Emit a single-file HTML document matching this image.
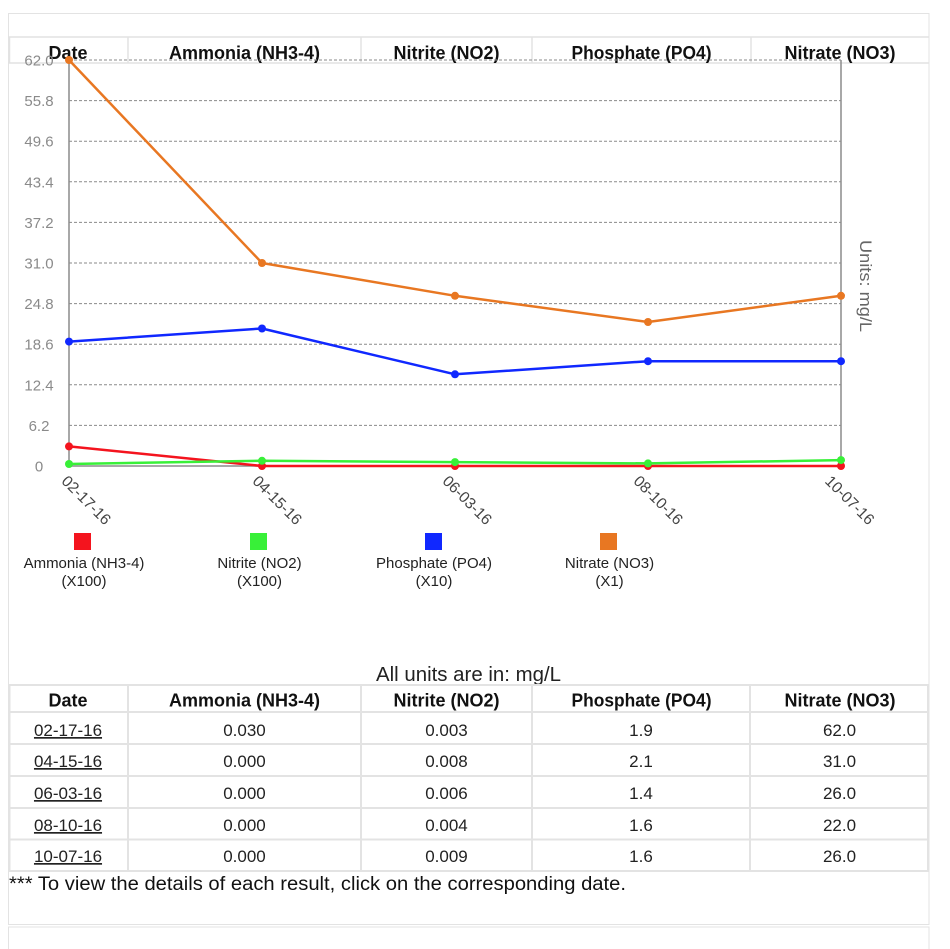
<!DOCTYPE html>
<html><head><meta charset="utf-8"><style>
html,body{margin:0;padding:0;background:#fff;}
svg{display:block;}
text{font-family:"Liberation Sans",Arial,sans-serif;}
</style></head><body>
<svg width="950" height="949" viewBox="0 0 950 949" xmlns="http://www.w3.org/2000/svg">
<!-- outer container -->
<rect x="8.5" y="13.5" width="920.5" height="911" fill="#fff" stroke="#e3e3e3" stroke-width="1"/>
<rect x="8.5" y="927" width="920.5" height="40" fill="#fff" stroke="#e3e3e3" stroke-width="1"/>

<!-- chart header row -->
<g stroke="#e2e2e2" stroke-width="1.5" fill="none">
<line x1="8.5" y1="37" x2="929" y2="37"/>
<line x1="8.5" y1="63" x2="929" y2="63"/>
<line x1="9.5" y1="37" x2="9.5" y2="63"/>
<line x1="128" y1="37" x2="128" y2="63"/>
<line x1="361" y1="37" x2="361" y2="63"/>
<line x1="532" y1="37" x2="532" y2="63"/>
<line x1="751" y1="37" x2="751" y2="63"/>
</g>
<g font-size="18" font-weight="bold" fill="#111" text-anchor="middle">
<text x="68" y="59">Date</text>
<text x="244.5" y="59">Ammonia (NH3-4)</text>
<text x="446.5" y="59">Nitrite (NO2)</text>
<text x="641.5" y="59" textLength="140" lengthAdjust="spacingAndGlyphs">Phosphate (PO4)</text>
<text x="840" y="59">Nitrate (NO3)</text>
</g>

<!-- gridlines -->
<g stroke="#8a8a8a" stroke-width="1" stroke-dasharray="3,2" fill="none">
<line x1="69" y1="60" x2="841" y2="60"/>
<line x1="69" y1="100.6" x2="841" y2="100.6"/>
<line x1="69" y1="141.2" x2="841" y2="141.2"/>
<line x1="69" y1="181.8" x2="841" y2="181.8"/>
<line x1="69" y1="222.4" x2="841" y2="222.4"/>
<line x1="69" y1="263" x2="841" y2="263"/>
<line x1="69" y1="303.6" x2="841" y2="303.6"/>
<line x1="69" y1="344.2" x2="841" y2="344.2"/>
<line x1="69" y1="384.8" x2="841" y2="384.8"/>
<line x1="69" y1="425.4" x2="841" y2="425.4"/>
</g>
<!-- axes -->
<g stroke="#8c8c8c" stroke-width="1.5" fill="none">
<line x1="69" y1="60" x2="69" y2="466"/>
<line x1="841" y1="60" x2="841" y2="466"/>
<line x1="69" y1="466" x2="841" y2="466"/>
</g>

<!-- y labels -->
<g font-size="15" fill="#8a8a8a" text-anchor="middle">
<text x="39" y="65.5">62.0</text>
<text x="39" y="106">55.8</text>
<text x="39" y="146.7">49.6</text>
<text x="39" y="187.3">43.4</text>
<text x="39" y="227.9">37.2</text>
<text x="39" y="268.5">31.0</text>
<text x="39" y="309.1">24.8</text>
<text x="39" y="349.7">18.6</text>
<text x="39" y="390.3">12.4</text>
<text x="39" y="430.9">6.2</text>
<text x="39" y="471.5">0</text>
</g>

<!-- x labels -->
<g font-size="15.5" fill="#444" text-anchor="middle">
<text transform="translate(86.5,500) rotate(45)" y="5.5">02-17-16</text>
<text transform="translate(277.5,500) rotate(45)" y="5.5">04-15-16</text>
<text transform="translate(467.5,500) rotate(45)" y="5.5">06-03-16</text>
<text transform="translate(658.5,500) rotate(45)" y="5.5">08-10-16</text>
<text transform="translate(850,500) rotate(45)" y="5.5">10-07-16</text>
</g>

<!-- right axis title -->
<text transform="translate(860,286) rotate(90)" font-size="17" fill="#666" text-anchor="middle" textLength="92" lengthAdjust="spacingAndGlyphs">Units: mg/L</text>

<!-- series -->
<g fill="none" stroke-width="2.5" stroke-linejoin="round">
<polyline stroke="#f4141e" points="69,446.4 262,466 455,466 648,466 841,466"/>
<polyline stroke="#38f038" points="69,464 262,460.8 455,462.1 648,463.4 841,460.1"/>
<polyline stroke="#1028ff" points="69,341.6 262,328.5 455,374.3 648,361.2 841,361.2"/>
<polyline stroke="#e87722" points="69,60 262,263 455,295.8 648,322 841,295.8"/>
</g>
<g fill="#f4141e">
<circle cx="69" cy="446.4" r="4"/><circle cx="262" cy="466" r="4"/><circle cx="455" cy="466" r="4"/><circle cx="648" cy="466" r="4"/><circle cx="841" cy="466" r="4"/>
</g>
<g fill="#38f038">
<circle cx="69" cy="464" r="4"/><circle cx="262" cy="460.8" r="4"/><circle cx="455" cy="462.1" r="4"/><circle cx="648" cy="463.4" r="4"/><circle cx="841" cy="460.1" r="4"/>
</g>
<g fill="#1028ff">
<circle cx="69" cy="341.6" r="4"/><circle cx="262" cy="328.5" r="4"/><circle cx="455" cy="374.3" r="4"/><circle cx="648" cy="361.2" r="4"/><circle cx="841" cy="361.2" r="4"/>
</g>
<g fill="#e87722">
<circle cx="69" cy="60" r="4"/><circle cx="262" cy="263" r="4"/><circle cx="455" cy="295.8" r="4"/><circle cx="648" cy="322" r="4"/><circle cx="841" cy="295.8" r="4"/>
</g>

<!-- legend -->
<rect x="74" y="533" width="17" height="17" fill="#f4141e"/>
<rect x="250" y="533" width="17" height="17" fill="#38f038"/>
<rect x="425" y="533" width="17" height="17" fill="#1028ff"/>
<rect x="600" y="533" width="17" height="17" fill="#e87722"/>
<g font-size="15" fill="#222" text-anchor="middle">
<text x="84" y="568">Ammonia (NH3-4)</text><text x="84" y="586">(X100)</text>
<text x="259.5" y="568">Nitrite (NO2)</text><text x="259.5" y="586">(X100)</text>
<text x="434" y="568">Phosphate (PO4)</text><text x="434" y="586">(X10)</text>
<text x="609.5" y="568">Nitrate (NO3)</text><text x="609.5" y="586">(X1)</text>
</g>

<!-- units caption -->
<text x="468.5" y="681" font-size="20" fill="#222" text-anchor="middle" textLength="185" lengthAdjust="spacingAndGlyphs">All units are in: mg/L</text>

<!-- table grid -->
<g stroke="#e3e3e3" stroke-width="2" fill="none">
<line x1="8" y1="685" x2="929" y2="685"/>
<line x1="8" y1="712" x2="929" y2="712"/>
<line x1="8" y1="744" x2="929" y2="744"/>
<line x1="8" y1="776" x2="929" y2="776"/>
<line x1="8" y1="808" x2="929" y2="808"/>
<line x1="8" y1="839.5" x2="929" y2="839.5"/>
<line x1="8" y1="871" x2="929" y2="871"/>
<line x1="9.5" y1="685" x2="9.5" y2="871"/>
<line x1="128" y1="685" x2="128" y2="871"/>
<line x1="361" y1="685" x2="361" y2="871"/>
<line x1="532" y1="685" x2="532" y2="871"/>
<line x1="750" y1="685" x2="750" y2="871"/>
<line x1="928" y1="685" x2="928" y2="871"/>
</g>
<g font-size="18" font-weight="bold" fill="#111" text-anchor="middle">
<text x="68" y="706.5">Date</text>
<text x="244.5" y="706.5">Ammonia (NH3-4)</text>
<text x="446.5" y="706.5">Nitrite (NO2)</text>
<text x="641.5" y="706.5" textLength="140" lengthAdjust="spacingAndGlyphs">Phosphate (PO4)</text>
<text x="840" y="706.5">Nitrate (NO3)</text>
</g>
<g font-size="17" fill="#222" text-anchor="middle">
<g text-decoration="underline">
<text x="68" y="736">02-17-16</text>
<text x="68" y="767">04-15-16</text>
<text x="68" y="799">06-03-16</text>
<text x="68" y="831">08-10-16</text>
<text x="68" y="862">10-07-16</text>
</g>
<text x="244.5" y="736">0.030</text>
<text x="244.5" y="767">0.000</text>
<text x="244.5" y="799">0.000</text>
<text x="244.5" y="831">0.000</text>
<text x="244.5" y="862">0.000</text>
<text x="446.5" y="736">0.003</text>
<text x="446.5" y="767">0.008</text>
<text x="446.5" y="799">0.006</text>
<text x="446.5" y="831">0.004</text>
<text x="446.5" y="862">0.009</text>
<text x="641" y="736">1.9</text>
<text x="641" y="767">2.1</text>
<text x="641" y="799">1.4</text>
<text x="641" y="831">1.6</text>
<text x="641" y="862">1.6</text>
<text x="839.5" y="736">62.0</text>
<text x="839.5" y="767">31.0</text>
<text x="839.5" y="799">26.0</text>
<text x="839.5" y="831">22.0</text>
<text x="839.5" y="862">26.0</text>
</g>

<!-- footnote -->
<text x="9" y="890" font-size="19" fill="#111" textLength="617" lengthAdjust="spacingAndGlyphs">*** To view the details of each result, click on the corresponding date.</text>
</svg>
</body></html>
